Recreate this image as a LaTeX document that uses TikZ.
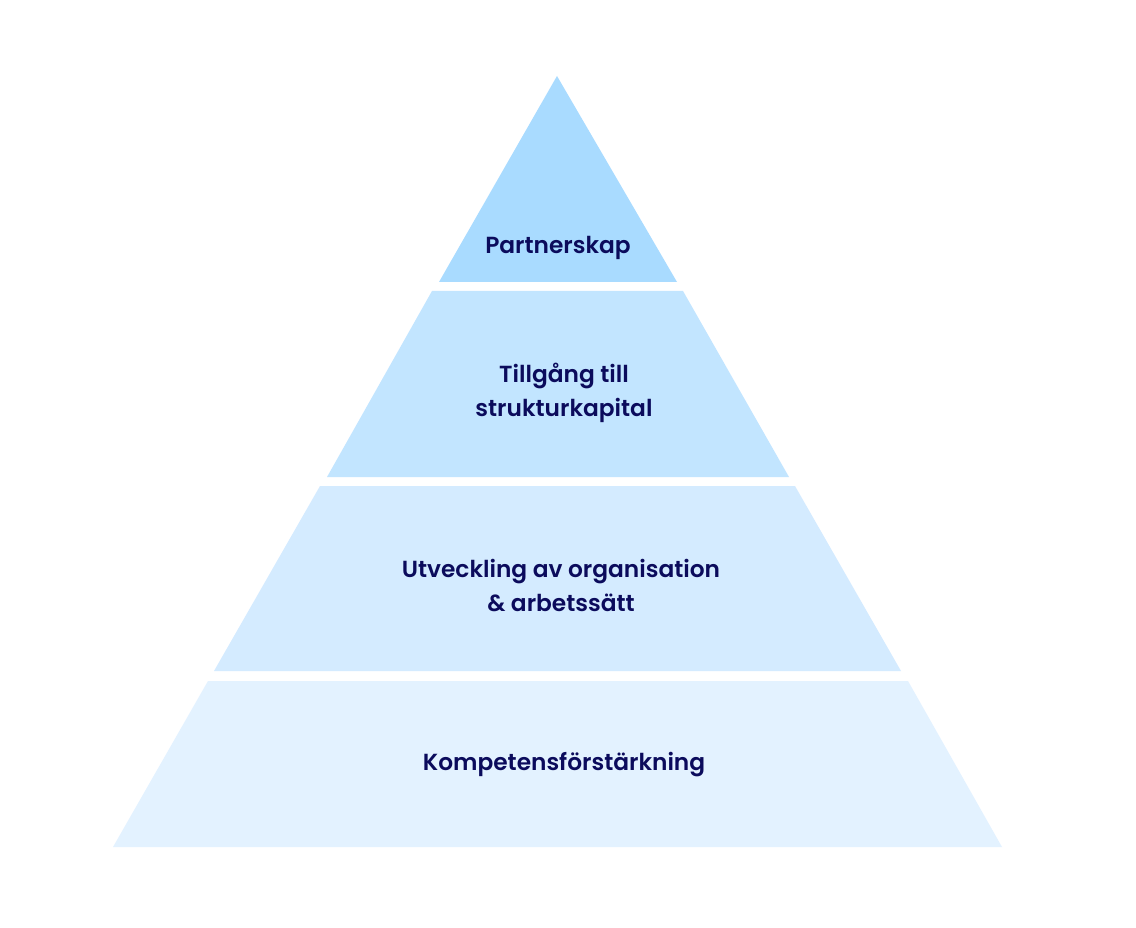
\documentclass[tikz,border=0pt]{standalone}
\usepackage{fontspec}
\setmainfont{Poppins}[BoldFont={Poppins SemiBold}]
\definecolor{tierA}{HTML}{A9DBFF}
\definecolor{tierB}{HTML}{C2E5FF}
\definecolor{tierC}{HTML}{D4EBFF}
\definecolor{tierD}{HTML}{E3F2FF}
\definecolor{navy}{HTML}{0B0B5C}
\begin{document}
\begin{tikzpicture}[x=1pt,y=-1pt,
  lbl/.style={text=navy,font=\fontsize{23.3}{34}\selectfont\bfseries,align=center,inner sep=0pt}]
\useasboundingbox[fill=white] (0,0) rectangle (1136,928);
\fill[tierA] (557,76) -- (677,282) -- (439,282) -- cycle;
\fill[tierB] (432,291) -- (683,291) -- (789,477) -- (327,477) -- cycle;
\fill[tierC] (320,486) -- (795,486) -- (901,671) -- (214,671) -- cycle;
\fill[tierD] (208,681) -- (908,681) -- (1002,847) -- (113,847) -- cycle;
\node[lbl] (t1) at (558,248) {Partnerskap};
\node[lbl] (t2) at (564,393) {Tillgång till\\strukturkapital};
\node[lbl] (t3) at (561,586) {Utveckling av organisation\\\& arbetssätt};
\node[lbl] (t4) at (564,765) {Kompetensförstärkning};
\end{tikzpicture}
\end{document}
